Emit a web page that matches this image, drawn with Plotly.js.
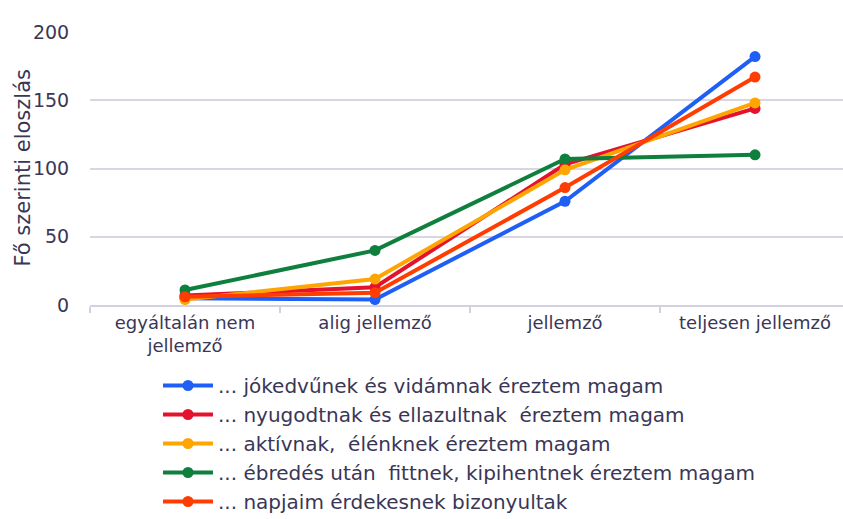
<!DOCTYPE html>
<html>
<head>
<meta charset="utf-8">
<script src="https://cdn.plot.ly/plotly-3.0.1.min.js"></script>
<style>
html,body{margin:0;padding:0;background:#fff;}
#chart{width:843px;height:519px;}
</style>
</head>
<body>
<div id="chart"></div>
<script>
const categories = ["egyáltalán nem<br>jellemző", "alig jellemző", "jellemző", "teljesen jellemző"];
const seriesNames = [
  "... jókedvűnek és vidámnak éreztem magam",
  "... nyugodtnak és ellazultnak  éreztem magam",
  "... aktívnak,  élénknek éreztem magam",
  "... ébredés után  fittnek, kipihentnek éreztem magam",
  "... napjaim érdekesnek bizonyultak"
];
const jokedvu = [5, 4, 76, 182];
const nyugodt = [7, 13, 103, 144];
const aktiv = [4, 19, 99, 148];
const ebredes = [11, 40, 107, 110];
const napjaim = [6, 9, 86, 167];
const yTicks = [0, 50, 100, 150, 200];
const yTitle = "Fő szerinti eloszlás";

const colors = ["#1F5FF5", "#E5122E", "#FFA500", "#0E7F3C", "#FF3D00"];
const values = [jokedvu, nyugodt, aktiv, ebredes, napjaim];

const traces = values.map((v, i) => ({
  x: categories,
  y: v,
  name: seriesNames[i],
  type: "scatter",
  mode: "lines+markers",
  line: {color: colors[i], width: 4},
  marker: {color: colors[i], size: 11}
}));

const txt = "#3A3656";
const fam = "DejaVu Sans, Verdana, sans-serif";
const layout = {
  width: 843, height: 519,
  margin: {l: 90, r: 0, t: 32, b: 214, autoexpand: false},
  paper_bgcolor: "#fff", plot_bgcolor: "#fff",
  font: {family: fam, size: 18, color: txt},
  showlegend: true,
  legend: {
    xref: "container", yref: "container",
    x: 158/843, y: 1 - 366/519, xanchor: "left", yanchor: "top",
    font: {family: fam, size: 20, color: txt},
    itemwidth: 50,
    tracegroupgap: 0,
    bgcolor: "rgba(0,0,0,0)"
  },
  xaxis: {
    type: "category",
    range: [-0.5, 3.463],
    showgrid: false,
    showline: true, linecolor: "#D3D0DF", linewidth: 2,
    ticks: "outside", tickson: "boundaries", ticklen: 6, tickcolor: "#D3D0DF", tickwidth: 2,
    tickangle: 0,
    tickfont: {family: fam, size: 18, color: txt},
    fixedrange: true
  },
  yaxis: {
    range: [0, 200],
    tickvals: yTicks,
    ticktext: yTicks.map(String),
    showgrid: true, gridcolor: "#D9D6E4", gridwidth: 2,
    zeroline: false, showline: false,
    ticks: "outside", ticklen: 16, tickcolor: "rgba(255,255,255,0)",
    tickfont: {family: fam, size: 19, color: txt},
    fixedrange: true
  },
  annotations: [{
    text: yTitle,
    xref: "paper", yref: "paper",
    x: (22 - 90) / 753, y: 0.5,
    xanchor: "center", yanchor: "middle",
    textangle: -90, showarrow: false,
    font: {family: fam, size: 21, color: txt}
  }]
};

Plotly.newPlot("chart", traces, layout, {displayModeBar: false, staticPlot: true});
</script>
</body>
</html>
